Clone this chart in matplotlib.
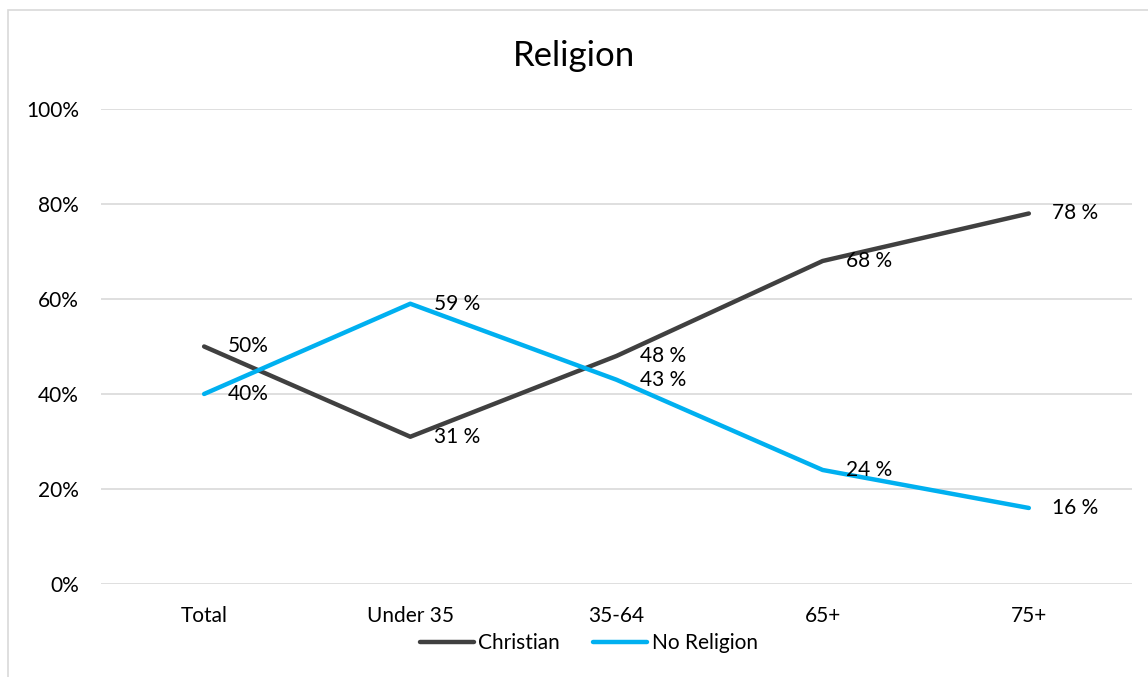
import numpy as np
import matplotlib.pyplot as plt
from matplotlib.patches import Rectangle

plt.rcParams['font.family'] = ['Lato', 'DejaVu Sans']

categories = ['Total', 'Under 35', '35-64', '65+', '75+']
christian = [50, 31, 48, 68, 78]
no_religion = [40, 59, 43, 24, 16]
christian_labels = ['50%', '31 %', '48 %', '68 %', '78 %']
no_religion_labels = ['40%', '59 %', '43 %', '24 %', '16 %']
y_ticks = [0, 20, 40, 60, 80, 100]

col_chr = '#404040'
col_nr = '#00B0F0'
grid_col = '#D9D9D9'
fs = 15

fig = plt.figure(figsize=(11.48, 6.77), dpi=100)
ax = fig.add_axes([0.088, 0.1374, 0.898, 0.7016])

# chart border
fig.patches.append(Rectangle((8 / 1148, -0.05), 1.2, 1 - 10 / 677 + 0.05,
                             transform=fig.transFigure, fill=False,
                             edgecolor=grid_col, lw=1.2))

x = np.arange(len(categories))
ax.plot(x, christian, color=col_chr, lw=3.2, solid_capstyle='round', label='Christian', zorder=3)
ax.plot(x, no_religion, color=col_nr, lw=3.2, solid_capstyle='round', label='No Religion', zorder=3)

for xi, v, t in zip(x, christian, christian_labels):
    ax.annotate(t, (xi, v), xytext=(17, 0), textcoords='offset points',
                va='center', ha='left', fontsize=fs, color='black', zorder=4)
for xi, v, t in zip(x, no_religion, no_religion_labels):
    ax.annotate(t, (xi, v), xytext=(17, 0), textcoords='offset points',
                va='center', ha='left', fontsize=fs, color='black', zorder=4)

ax.set_xlim(-0.5, len(categories) - 0.5)
ax.set_ylim(0, 100)
ax.set_yticks(y_ticks)
ax.set_yticklabels([f'{v}%' for v in y_ticks])
ax.set_xticks(x)
ax.set_xticklabels(categories)
ax.tick_params(axis='both', length=0, labelsize=fs, colors='black')
ax.tick_params(axis='y', pad=16)
ax.tick_params(axis='x', pad=16)
ax.grid(axis='y', color=grid_col, lw=1.2)
ax.set_axisbelow(True)
for s in ax.spines.values():
    s.set_visible(False)

fig.text(0.5, 0.918, 'Religion', ha='center', va='center', fontsize=25)

ax.legend(loc='center', bbox_to_anchor=(0.473, -0.125), ncol=2, frameon=False,
          fontsize=fs, handlelength=2.6, handletextpad=0.2, columnspacing=1.6)

fig.savefig('out.png', dpi=100)
